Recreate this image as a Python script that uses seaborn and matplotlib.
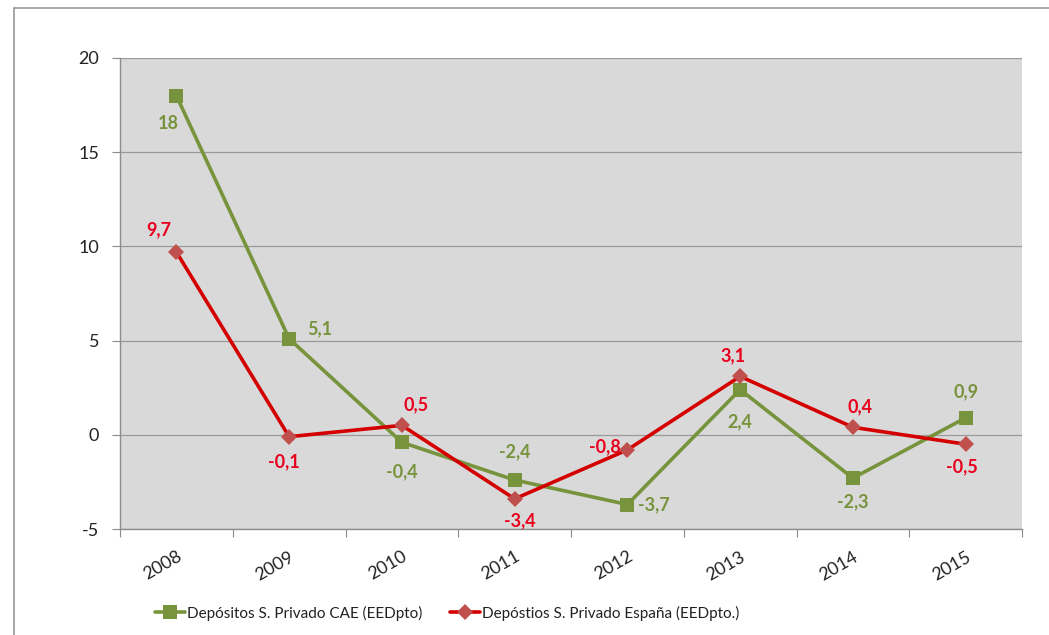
import matplotlib
matplotlib.use("Agg")
import matplotlib.pyplot as plt
import seaborn as sns
import pandas as pd
from matplotlib.lines import Line2D

years = ["2008", "2009", "2010", "2011", "2012", "2013", "2014", "2015"]
cae = [18, 5.1, -0.4, -2.4, -3.7, 2.4, -2.3, 0.9]
espana = [9.7, -0.1, 0.5, -3.4, -0.8, 3.1, 0.4, -0.5]
label_cae = "Depósitos S. Privado CAE (EEDpto)"
label_esp = "Depóstios S. Privado España (EEDpto.)"
yticks = [-5, 0, 5, 10, 15, 20]

sns.set_style("white")
plt.rcParams["font.family"] = ["Lato", "DejaVu Sans"]

GREEN = "#77933C"
RED_LINE = "#D40000"
RED_MARK = "#C0504D"
RED_TXT = "#E8001C"

fig = plt.figure(figsize=(10.49, 6.35), dpi=100)
ax = fig.add_axes([120/1049, 1-529/635, (1022-120)/1049, (529-58)/635])
ax.set_facecolor("#D9D9D9")

idx = list(range(len(years)))
df = pd.DataFrame({"x": idx, "cae": cae, "esp": espana})

sns.lineplot(data=df, x="x", y="cae", ax=ax, color=GREEN, linewidth=2.6,
             marker="s", markersize=10.5, markeredgewidth=0, markerfacecolor=GREEN,
             label=label_cae, zorder=3)
sns.lineplot(data=df, x="x", y="esp", ax=ax, color=RED_LINE, linewidth=2.6,
             marker="D", markersize=8, markeredgewidth=0, markerfacecolor=RED_MARK,
             label=label_esp, zorder=4)

ax.set_xlim(-0.5, len(years) - 0.5)
ax.set_ylim(-5, 20)
ax.set_yticks(yticks)
ax.set_yticklabels([str(v) for v in yticks], fontsize=13, color="#222222")
ax.yaxis.grid(True, color="#9A9A9A", linewidth=0.9)
ax.set_axisbelow(True)
ax.set_xlabel("")
ax.set_ylabel("")

ax.set_xticks([i - 0.5 for i in range(len(years) + 1)])
ax.set_xticklabels([""] * (len(years) + 1))
ax.set_xticks(idx, minor=True)
ax.set_xticklabels(years, minor=True, rotation=30, ha="right",
                   rotation_mode="anchor", fontsize=13, color="#222222")
ax.tick_params(axis="x", which="minor", length=0, pad=14)
ax.tick_params(axis="x", which="major", length=6, color="#8C8C8C", direction="out", bottom=True)
ax.tick_params(axis="y", length=6, color="#8C8C8C", direction="out", left=True, pad=9)

for s in ["top", "right"]:
    ax.spines[s].set_visible(False)
for s in ["left", "bottom"]:
    ax.spines[s].set_color("#8C8C8C")
    ax.spines[s].set_linewidth(1.0)

# data label offsets in points (dx, dy)
off_cae = [(-6, -20), (22, 7), (0, -21), (0, 20), (19, 0), (0, -23), (0, -17), (0, 19)]
off_esp = [(-13, 16), (-4, -18), (10, 15), (4, -16), (-16, 2), (-5, 15), (5, 15), (-3, -16)]

def fmt(v):
    return f"{v:g}".replace(".", ",")

for i, v in enumerate(cae):
    dx, dy = off_cae[i]
    ax.annotate(fmt(v), (i, v), xytext=(dx, dy), textcoords="offset points",
                ha="center", va="center", fontsize=13, fontweight="bold",
                color=GREEN, zorder=6)
for i, v in enumerate(espana):
    dx, dy = off_esp[i]
    ax.annotate(fmt(v), (i, v), xytext=(dx, dy), textcoords="offset points",
                ha="center", va="center", fontsize=13, fontweight="bold",
                color=RED_TXT, zorder=6)

leg = ax.legend(loc="center", bbox_to_anchor=(447/1049, 1-613/635),
                bbox_transform=fig.transFigure, ncol=2, frameon=False,
                fontsize=11, handlelength=2.0, columnspacing=1.8, handletextpad=0.1)
for t in leg.get_texts():
    t.set_color("#222222")

# outer chart border (partially visible)
fig.add_artist(Line2D([14/1049, 14/1049], [0, 1-8/635], transform=fig.transFigure,
                      color="#9A9A9A", linewidth=1.2))
fig.add_artist(Line2D([14/1049, 1], [1-8/635, 1-8/635], transform=fig.transFigure,
                      color="#9A9A9A", linewidth=1.2))

fig.savefig("out.png", dpi=100)
